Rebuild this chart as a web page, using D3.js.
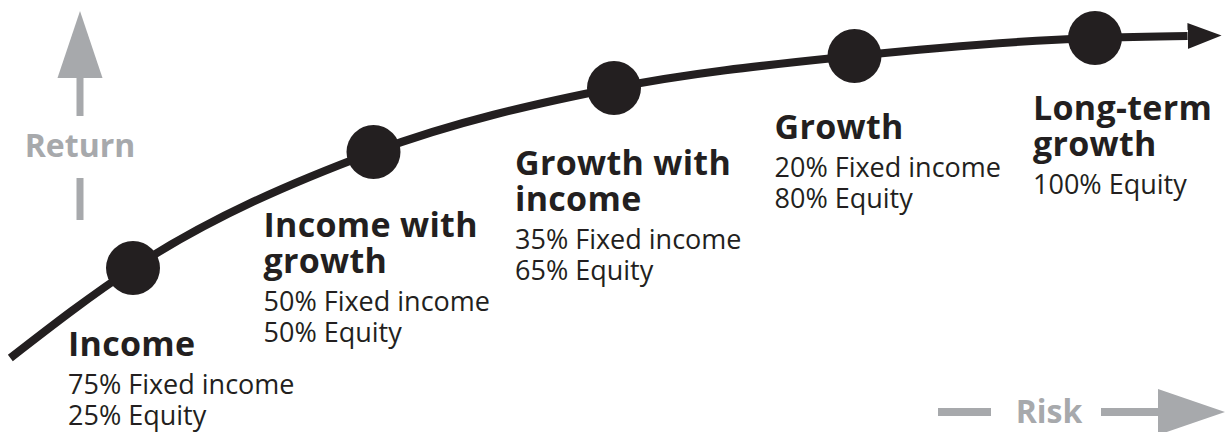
<!DOCTYPE html>
<html>
<head>
<meta charset="utf-8">
<script src="https://cdn.jsdelivr.net/npm/d3@7"></script>
<style>
  body { margin: 0; background: #fff; }
  svg { display: block; }
  text { font-family: "Open Sans", "Noto Sans", sans-serif; }
</style>
</head>
<body>
<div id="container"></div>
<script>
/* CONSTANTS AND GLOBALS */
const width = 1227,
  height = 432;

/* DATA */
const titleLines = [["Income"], ["Income with", "growth"], ["Growth with", "income"], ["Growth"], ["Long-term", "growth"]];
const fixedIncome = [75, 50, 35, 20, 0];
const equity = [25, 50, 65, 80, 100];
const riskLevel = [1, 2, 3, 4, 5];
const returnLevel = [3.3, 6.2, 7.8, 8.6, 9.05];
// where the curve starts and where the arrow head begins
const curveStart = { risk: 0.49, ret: 1.05 };
const curveEnd = { risk: 5.385, ret: 9.1 };

// label placement relative to each dot (layout only)
const labelOffsets = [[-65, 88], [-110, 85], [-99, 87], [-80, 83], [-62, 82]];

const ink = "#231f20",
  grey = "#a7a9ac";

/* SCALES */
const xScale = d3.scaleLinear()
  .domain([1, 5])
  .range([133, 1095]);

const yScale = d3.scaleLinear()
  .domain([0, 10])
  .range([400, 0]);

const stages = riskLevel.map((r, i) => ({
  risk: r,
  ret: returnLevel[i],
  title: titleLines[i],
  lines: fixedIncome[i] > 0
    ? [`${fixedIncome[i]}% Fixed income`, `${equity[i]}% Equity`]
    : [`${equity[i]}% Equity`],
  off: labelOffsets[i]
}));

/* HTML ELEMENTS */
const svg = d3.select("#container")
  .append("svg")
  .attr("width", width)
  .attr("height", height);

svg.append("defs").append("marker")
  .attr("id", "head")
  .attr("markerUnits", "userSpaceOnUse")
  .attr("viewBox", "0 -14 36 28")
  .attr("refX", 0)
  .attr("refY", 0)
  .attr("markerWidth", 36)
  .attr("markerHeight", 28)
  .attr("orient", "auto")
  .append("path")
  .attr("d", "M0,-13L34,0L0,13Z")
  .attr("fill", ink);

// the curve
const line = d3.line()
  .x(d => xScale(d.risk))
  .y(d => yScale(d.ret))
  .curve(d3.curveMonotoneX);

svg.append("path")
  .datum([curveStart, ...stages, curveEnd])
  .attr("d", line)
  .attr("fill", "none")
  .attr("stroke", ink)
  .attr("stroke-width", 8)
  .attr("marker-end", "url(#head)");

// dots
svg.selectAll(".dot")
  .data(stages)
  .join("circle")
  .attr("class", "dot")
  .attr("cx", d => xScale(d.risk))
  .attr("cy", d => yScale(d.ret))
  .attr("r", 27)
  .attr("fill", ink);

// labels: one text per stage, lines as tspans
const labels = svg.selectAll(".label")
  .data(stages)
  .join("text")
  .attr("class", "label")
  .attr("fill", ink)
  .attr("transform", d => `translate(${xScale(d.risk) + d.off[0]},${yScale(d.ret) + d.off[1]})`);

labels.each(function(d) {
  const t = d3.select(this);
  d.title.forEach((s, j) => {
    t.append("tspan")
      .attr("x", 0)
      .attr("y", j * 36)
      .attr("font-size", 34)
      .attr("font-weight", 700)
      .attr("letter-spacing", 0.3)
      .text(s);
  });
  const top = (d.title.length - 1) * 36 + 38;
  d.lines.forEach((s, j) => {
    t.append("tspan")
      .attr("x", 0)
      .attr("y", top + j * 31)
      .attr("font-size", 27)
      .text(s);
  });
});

/* RETURN ARROW */
const ret = svg.append("g").attr("fill", grey);
ret.append("path").attr("d", "M80,11L102.5,78L57.5,78Z");
ret.append("rect").attr("x", 76.5).attr("y", 77).attr("width", 7).attr("height", 39);
ret.append("rect").attr("x", 76.5).attr("y", 178).attr("width", 7).attr("height", 42);
ret.append("text")
  .attr("x", 80)
  .attr("y", 157)
  .attr("text-anchor", "middle")
  .attr("font-size", 32)
  .attr("font-weight", 700)
  .text("Return");

/* RISK ARROW */
const risk = svg.append("g").attr("fill", grey);
risk.append("rect").attr("x", 938).attr("y", 408).attr("width", 53).attr("height", 8);
risk.append("rect").attr("x", 1101).attr("y", 408).attr("width", 59).attr("height", 8);
risk.append("path").attr("d", "M1158,389L1225,412L1158,435Z");
risk.append("text")
  .attr("x", 1049)
  .attr("y", 423)
  .attr("text-anchor", "middle")
  .attr("font-size", 32)
  .attr("font-weight", 700)
  .text("Risk");
</script>
</body>
</html>
